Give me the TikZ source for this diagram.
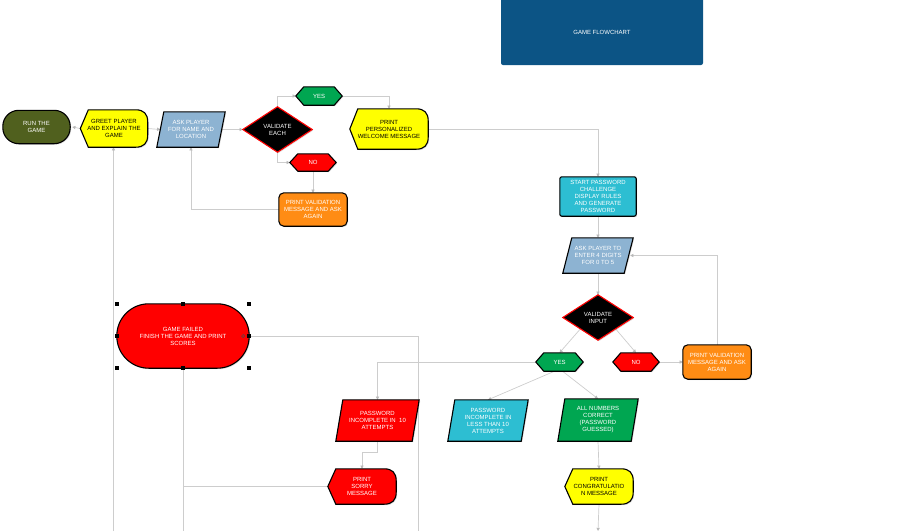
\documentclass[tikz,border=0pt]{standalone}
\usepackage{fontspec}
\setmainfont{Liberation Sans}
\usetikzlibrary{calc,arrows.meta,shadows}
\definecolor{titleblue}{RGB}{12,84,133}
\definecolor{olive}{RGB}{80,96,30}
\definecolor{yel}{RGB}{255,255,0}
\definecolor{ltblue}{RGB}{141,179,210}
\definecolor{teal1}{RGB}{45,190,210}
\definecolor{grn}{RGB}{0,166,81}
\definecolor{rd}{RGB}{255,0,0}
\definecolor{orng}{RGB}{255,140,20}
\definecolor{linegray}{RGB}{205,205,205}
\definecolor{tipgray}{RGB}{185,185,185}
\pgfdeclarelayer{lines}
\pgfdeclarelayer{bg}
\pgfsetlayers{lines,bg,main}
\newcommand\shHex[2]{\path[#2] (#1.west) -- ($(#1.north west)+(8,0)$) -- ($(#1.north east)+(-8,0)$) -- (#1.east) -- ($(#1.south east)+(-8,0)$) -- ($(#1.south west)+(8,0)$) -- cycle;}
\newcommand\shPara[3]{\path[#2] ($(#1.north west)+(#3,0)$) -- (#1.north east) -- ($(#1.south east)+(-#3,0)$) -- (#1.south west) -- cycle;}
\newcommand\shDiam[2]{\path[#2] (#1.north) -- (#1.east) -- (#1.south) -- (#1.west) -- cycle;}
\newcommand\shDisp[2]{\path[#2] (#1.west) -- ($(#1.north west)+(8,0)$) -- ($(#1.north east)+(-12,0)$) .. controls ($(#1.north east)+(-4,0)$) and ($(#1.north east)+(0,4)$) .. ($(#1.north east)+(0,12)$) -- ($(#1.south east)+(0,-12)$) .. controls ($(#1.south east)+(0,-4)$) and ($(#1.south east)+(-4,0)$) .. ($(#1.south east)+(-12,0)$) -- ($(#1.south west)+(8,0)$) -- cycle;}
\tikzset{
  bx/.style 2 args={minimum width=#1pt, minimum height=#2pt, inner sep=0pt, align=center, text=white, font=\fontsize{6}{7}\selectfont},
  dk/.style={text=black},
  sh/.style={draw=black, line width=1.1pt, fill=#1, drop shadow={shadow xshift=1pt, shadow yshift=-1pt, opacity=0.25}},
  shr/.style={draw=rd, line width=1.1pt, fill=black, drop shadow={shadow xshift=1pt, shadow yshift=-1pt, opacity=0.25}},
  ln/.style={draw=linegray, line width=0.7pt},
  arr/.style={ln, -{Triangle[length=3.2pt,width=3.2pt,color=tipgray]}},
  hdl/.style={fill=black, minimum size=3.5pt, inner sep=0pt, draw=none}
}
\begin{document}
\begin{tikzpicture}[x=1pt,y=-1pt]
\useasboundingbox (0,0) rectangle (900,531);
% nodes
\node[bx={202}{65}] (title) at (602,32) {GAME FLOWCHART};
\node[bx={67}{33}] (run) at (36.5,127) {RUN THE\\GAME};
\node[bx={67}{37}, dk] (greet) at (114,128.5) {GREET PLAYER\\AND EXPLAIN THE\\GAME};
\node[bx={68}{35}] (ask) at (191,129.5) {ASK PLAYER\\FOR NAME AND\\LOCATION};
\node[bx={69}{45}] (ve) at (277.5,129.5) {VALIDATE\\EACH};
\node[bx={46}{18}] (yes) at (319,96) {YES};
\node[bx={78}{40}, dk] (pp) at (389,129) {PRINT\\PERSONALIZED\\WELCOME MESSAGE};
\node[bx={46}{17}] (no) at (313,162.5) {NO};
\node[bx={68}{33}] (pv1) at (313,209.5) {PRINT VALIDATION\\MESSAGE AND ASK\\AGAIN};
\node[bx={76}{39}] (start) at (598,196.5) {START PASSWORD\\CHALLENGE\\DISPLAY RULES\\AND GENERATE\\PASSWORD};
\node[bx={70}{35}] (ask2) at (598,255.5) {ASK PLAYER TO\\ENTER 4 DIGITS\\FOR 0 TO 5};
\node[bx={70}{45}] (vi) at (598,317.5) {VALIDATE\\INPUT};
\node[bx={47}{18}] (yes2) at (559.5,362) {YES};
\node[bx={46}{18}] (no2) at (636,362) {NO};
\node[bx={68}{34}] (pv2) at (717,362) {PRINT VALIDATION\\MESSAGE AND ASK\\AGAIN};
\node[bx={83}{41}] (pr) at (377.5,420.5) {PASSWORD\\INCOMPLETE IN~~10\\ATTEMPTS};
\node[bx={80}{41}] (pb) at (488,420.5) {PASSWORD\\INCOMPLETE IN\\LESS THAN 10\\ATTEMPTS};
\node[bx={80}{42}] (pg) at (598,420) {ALL NUMBERS\\CORRECT\\(PASSWORD\\GUESSED)};
\node[bx={68}{35}] (sorry) at (362,486.5) {PRINT\\SORRY\\MESSAGE};
\node[bx={68}{35}, dk] (cg) at (599,486.5) {PRINT\\CONGRATULATIO\\N MESSAGE};
\node[bx={132}{64}] (gf) at (183,336) {GAME FAILED\\FINISH THE GAME AND PRINT\\SCORES};
% free ends
\coordinate (bl) at (113.5,531);
\coordinate (bm) at (183,531);
\coordinate (br) at (418,531);
\coordinate (bc) at (598,531);
% shapes
\begin{pgfonlayer}{bg}
\fill[titleblue, rounded corners=2pt] (501,-4) rectangle (703,65);
\path[sh=olive, rounded corners=16pt] (run.north west) rectangle (run.south east);
\shDisp{greet}{sh=yel}
\shPara{ask}{sh=ltblue}{7}
\shDiam{ve}{shr}
\shHex{yes}{sh=grn}
\shDisp{pp}{sh=yel}
\shHex{no}{sh=rd}
\path[sh=orng, rounded corners=5pt] (pv1.north west) rectangle (pv1.south east);
\path[sh=teal1, rounded corners=2pt] (start.north west) rectangle (start.south east);
\shPara{ask2}{sh=ltblue}{9}
\shDiam{vi}{shr}
\shHex{yes2}{sh=grn}
\shHex{no2}{sh=rd}
\path[sh=orng, rounded corners=5pt] (pv2.north west) rectangle (pv2.south east);
\shPara{pr}{sh=rd}{7}
\shPara{pb}{sh=teal1}{7}
\shPara{pg}{sh=grn}{7}
\shDisp{sorry}{sh=rd}
\shDisp{cg}{sh=yel}
\path[sh=rd, rounded corners=32pt] (gf.north west) rectangle (gf.south east);
\end{pgfonlayer}
% selection handles
\foreach \a in {north west,north,north east,west,east,south west,south,south east}
  \node[hdl] (h-\a) at (gf.\a) {};
\draw[black!70, line width=0.5pt] ($(gf.east)+(-6,0)$) circle (1.6);
% connectors
\begin{pgfonlayer}{lines}
\draw[arr] (greet.west) -- ($(run.east)+(2,0)$);
\draw[arr] (greet.east) -- ($(ask.west)+(3.5,0)$);
\draw[arr] ($(ask.east)+(-3.5,0)$) -- (ve.west);
\draw[arr] (ve.north) |- (yes.west);
\draw[arr] (yes.east) -| (pp.north);
\draw[arr] (pp.east) -| (start.north);
\draw[arr] (ve.south) |- (no.west);
\draw[arr] (no.south) -- (pv1.north);
\draw[arr] (pv1.west) -| (ask.south);
\draw[arr] (bl) -- (bl |- greet.south);
\draw[ln] (gf.east) -| (br);
\draw[ln] (gf.south) -- (bm);
\draw[ln] (sorry.west) -- (sorry.west -| gf.south);
\draw[arr] (start.south) -- (ask2.north);
\draw[arr] (ask2.south) -- (vi.north);
\draw[arr] ($(vi.south)!0.5!(vi.west)$) -- (yes2.north);
\draw[arr] ($(vi.south)!0.5!(vi.east)$) -- (no2.north);
\draw[arr] (no2.east) -- (pv2.west);
\draw[arr] (pv2.north) |- ($(ask2.east)+(-3,0)$);
\draw[arr] (yes2.west) -| (pr.north);
\draw[arr] ($(yes2.south)+(-5,0)$) -- (pb.north);
\draw[arr] ($(yes2.south)+(3,0)$) -- (pg.north);
\draw[arr] (pr.south) -- ++(0,11) -| (sorry.north);
\draw[arr] (pg.south) -- (cg.north);
\draw[arr] (cg.south) -- (bc);
\end{pgfonlayer}
\end{tikzpicture}
\end{document}
